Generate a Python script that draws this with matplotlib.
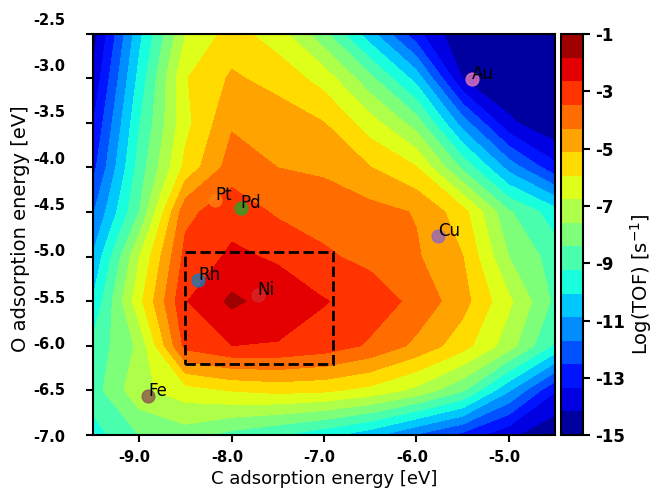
import numpy as np
import matplotlib
matplotlib.use("Agg")
import matplotlib.pyplot as plt
from matplotlib.patches import Rectangle

# grid of C (x) and O (y) adsorption energies, eV
c_energy = [-9.5, -9.0, -8.5, -8.0, -7.5, -7.0, -6.5, -6.0, -5.5, -5.0, -4.5]
o_energy = [-7.0, -6.5, -6.0, -5.5, -5.0, -4.5, -4.0, -3.5, -3.0, -2.5]

# log10(TOF), one row per O energy (bottom to top)
log_tof = [
    [-9.6, -8.4, -8.0, -8.7, -9.2, -9.8, -10.6, -11.8, -12.8, -14.0, -14.9],
    [-8.8, -7.0, -6.3, -5.9, -5.7, -5.8, -6.2, -7.0, -8.3, -10.8, -13.3],
    [-9.0, -7.4, -3.2, -2.65, -2.7, -3.0, -3.6, -4.5, -5.6, -7.2, -9.4],
    [-10.0, -6.2, -2.7, -1.65, -2.2, -2.6, -3.0, -3.7, -4.8, -6.6, -8.6],
    [-10.8, -6.8, -3.2, -2.5, -2.75, -3.35, -3.7, -4.2, -5.1, -7.6, -8.8],
    [-11.8, -8.4, -3.7, -2.95, -3.6, -3.8, -4.0, -4.35, -5.6, -8.3, -9.7],
    [-12.8, -8.9, -5.7, -3.9, -4.3, -4.45, -5.1, -5.9, -8.6, -11.2, -13.1],
    [-13.4, -9.3, -6.2, -4.4, -4.7, -5.1, -6.4, -8.0, -11.3, -14.0, -14.95],
    [-14.0, -9.8, -6.0, -5.0, -5.4, -6.3, -8.2, -10.4, -14.2, -14.95, -14.95],
    [-14.6, -10.3, -6.8, -5.6, -6.4, -8.2, -10.6, -13.1, -14.95, -14.95, -14.95],
]

# metals
metals = ["Rh", "Pt", "Pd", "Ni", "Cu", "Fe", "Au"]
metal_c = [-8.36, -8.18, -7.90, -7.72, -5.77, -8.90, -5.40]
metal_o = [-5.26, -4.37, -4.45, -5.43, -4.77, -6.56, -3.01]

ytick_vals = [-7.0, -6.5, -6.0, -5.5, -5.0, -4.5, -4.0, -3.5, -3.0, -2.5]
xtick_vals = [-9.0, -8.0, -7.0, -6.0, -5.0]
cbar_ticks = [-1, -3, -5, -7, -9, -11, -13, -15]


def main():
    fig = plt.figure(figsize=(6.56, 4.9), dpi=100)
    ax = fig.add_axes([0.1418, 0.1122, 0.7043, 0.8194])
    cax = fig.add_axes([0.8552, 0.1122, 0.0335, 0.818])

    X, Y = np.meshgrid(c_energy, o_energy)
    levels = np.linspace(-15, -1, 18)
    cs = ax.contourf(X, Y, np.array(log_tof), levels=levels, cmap="jet")

    for i, name in enumerate(metals):
        ax.scatter(metal_c[i], metal_o[i], s=85, alpha=0.8, zorder=3)
        ax.text(metal_c[i], metal_o[i], name, fontsize=12, zorder=4)

    ax.add_patch(Rectangle((-8.5, -6.2), 1.6, 1.25, fill=False,
                           edgecolor="black", linestyle="--", linewidth=2,
                           zorder=5))

    ax.set_xlim(-9.5, -4.5)
    ax.set_ylim(-7.0, -2.5)
    # tick marks on the axis, labels written as text next to them
    ax.set_xticks(xtick_vals)
    ax.set_xticklabels([])
    ax.set_yticks(ytick_vals)
    ax.set_yticklabels([])
    ax.tick_params(length=5, width=1.5)
    for v in xtick_vals:
        ax.text(v - 0.05, -0.055, "%.1f" % v, transform=ax.get_xaxis_transform(),
                ha="center", va="center", fontsize=10.5, fontweight="bold")
    for j, v in enumerate(ytick_vals):
        frac = (j * 46.3 - 2) / 401.5
        ax.text(-0.06, frac, "%.1f" % v, transform=ax.transAxes,
                ha="right", va="center", fontsize=10.5, fontweight="bold")
    for sp in ax.spines.values():
        sp.set_linewidth(1.5)

    ax.set_xlabel("C adsorption energy [eV]", fontsize=13)
    ax.xaxis.set_label_coords(0.5, -0.088)
    ax.set_ylabel("O adsorption energy [eV]", fontsize=14)
    ax.yaxis.set_label_coords(-0.136, 0.513)

    cbar = fig.colorbar(cs, cax=cax)
    cbar.set_ticks(cbar_ticks)
    cbar.set_ticklabels([str(t) for t in cbar_ticks])
    cbar.ax.tick_params(labelsize=12, length=5, width=1.5)
    for lab in cbar.ax.get_yticklabels():
        lab.set_fontweight("bold")
    cbar.outline.set_linewidth(1.5)
    cbar.set_label("Log(TOF) [s$^{-1}$]", fontsize=14)
    cbar.ax.yaxis.set_label_coords(3.05, 0.376)

    fig.savefig("out.png", dpi=100)


if __name__ == "__main__":
    main()
